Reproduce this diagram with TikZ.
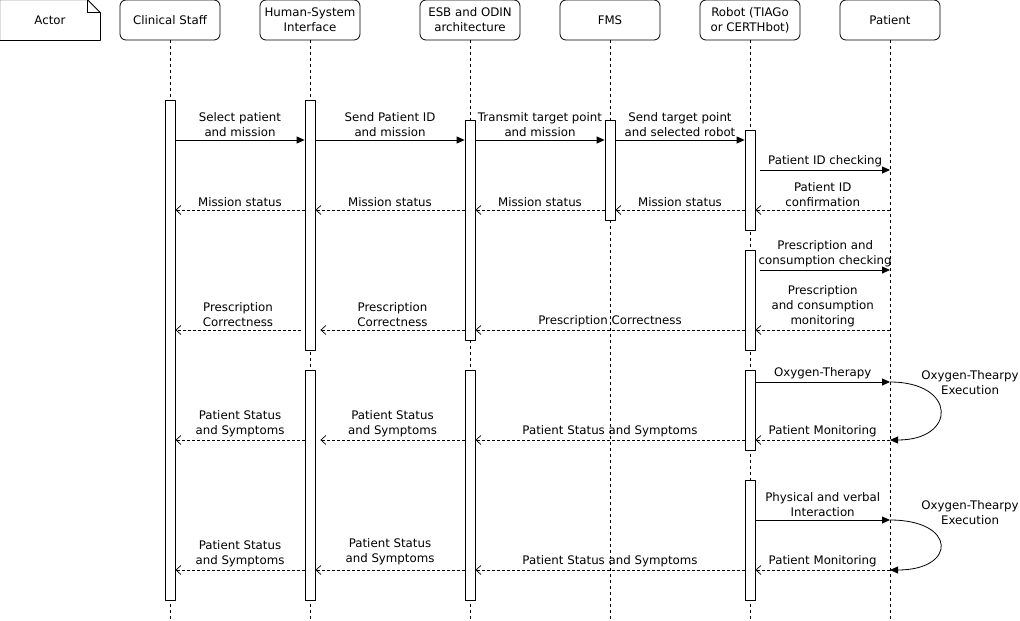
\documentclass[tikz,border=0pt]{standalone}
\usepackage{fontspec}
\setmainfont{DejaVu Sans}
\usetikzlibrary{arrows.meta}

\begin{document}
\begin{tikzpicture}[x=1pt,y=-1pt,line join=round,line width=0.8pt,
  font=\fontsize{11.8}{15}\selectfont,
  head/.style={draw,rounded corners=6pt,minimum width=100pt,minimum height=40pt,align=center,inner sep=1pt},
  life/.style={dash pattern=on 3pt off 3pt},
  bar/.style={draw,fill=white,minimum width=10pt,inner sep=0pt},
  msg/.style={-{Triangle[length=8pt,width=7pt]}},
  ret/.style={dash pattern=on 3pt off 2pt,-{Straight Barb[length=5pt,width=9pt,line width=0.7pt]}},
  lbl/.style={above,align=center,inner sep=1pt,yshift=2pt}]
  \useasboundingbox (0,0) rectangle (1020,621);

  % header boxes
  \node[minimum width=100pt,minimum height=40pt] (actor) at (50,20) {Actor};
  \draw (actor.north west) -- ([xshift=-13pt]actor.north east) -- ([yshift=-13pt]actor.north east)
    -- (actor.south east) -- (actor.south west) -- cycle;
  \draw ([xshift=-13pt]actor.north east) |- ([yshift=-13pt]actor.north east);
  \node[head] (cs) at (170,20) {Clinical Staff};
  \node[head] (hsi) at (310,20) {Human-System\\Interface};
  \node[head] (esb) at (470,20) {ESB and ODIN\\architecture};
  \node[head] (fms) at (610,20) {FMS};
  \node[head] (rob) at (750,20) {Robot (TIAGo\\or CERTHbot)};
  \node[head] (pat) at (890,20) {Patient};

  % lifelines
  \foreach \n in {cs,hsi,esb,fms,rob,pat}
    \draw[life] (\n.south) -- (\n.south |- 0,621);

  % activation bars
  \node[bar,minimum height=500pt] (cs1) at (170,350) {};
  \node[bar,minimum height=250pt] (hsi1) at (310,225) {};
  \node[bar,minimum height=230pt] (hsi2) at (310,485) {};
  \node[bar,minimum height=220pt] (esb1) at (470,230) {};
  \node[bar,minimum height=230pt] (esb2) at (470,485) {};
  \node[bar,minimum height=100pt] (fms1) at (610,170) {};
  \node[bar,minimum height=100pt] (rob1) at (750,180) {};
  \node[bar,minimum height=100pt] (rob2) at (750,300) {};
  \node[bar,minimum height=80pt] (rob3) at (750,410) {};
  \node[bar,minimum height=120pt] (rob4) at (750,540) {};

  % mission request
  \draw[msg] (cs1.east |- 0,140) -- node[lbl] {Select patient\\and mission} (hsi1.west |- 0,140);
  \draw[msg] (hsi1.east |- 0,140) -- node[lbl] {Send Patient ID\\and mission} (esb1.west |- 0,140);
  \draw[msg] (esb1.east |- 0,140) -- node[lbl] {Transmit target point\\and mission} (fms1.west |- 0,140);
  \draw[msg] (fms1.east |- 0,140) -- node[lbl] {Send target point\\and selected robot} (rob1.west |- 0,140);
  \draw[msg] ([xshift=5pt]rob1.east |- 0,170) -- node[lbl] {Patient ID checking} (pat |- 0,170);

  % mission status
  \draw[ret] (pat |- 0,210) -- node[lbl] {Patient ID\\confirmation} (rob1.east |- 0,210);
  \draw[ret] (rob1.west |- 0,210) -- node[lbl] {Mission status} (fms1.east |- 0,210);
  \draw[ret] (fms1.west |- 0,210) -- node[lbl] {Mission status} (esb1.east |- 0,210);
  \draw[ret] (esb1.west |- 0,210) -- node[lbl] {Mission status} (hsi1.east |- 0,210);
  \draw[ret] (hsi1.west |- 0,210) -- node[lbl] {Mission status} (cs1.east |- 0,210);

  % prescription
  \draw[msg] ([xshift=5pt]rob2.east |- 0,270) -- node[lbl] {Prescription and\\consumption checking} (pat |- 0,270);
  \draw[ret] (pat |- 0,330) -- node[lbl] {Prescription\\and consumption\\monitoring} (rob2.east |- 0,330);
  \draw[ret] (rob2.west |- 0,330) -- node[lbl] {Prescription Correctness} (esb1.east |- 0,330);
  \draw[ret] (esb1.west |- 0,330) -- node[lbl] {Prescription\\Correctness} ([xshift=5pt]hsi1.east |- 0,330);
  \draw[ret] ([xshift=-4pt]hsi1.west |- 0,330) -- node[lbl] {Prescription\\Correctness} (cs1.east |- 0,330);

  % oxygen therapy
  \draw[msg] (rob3.east |- 0,382) -- node[lbl] {Oxygen-Therapy} (pat |- 0,382);
  \draw[msg] (pat |- 0,382) .. controls (957,382) and (957,440) .. (pat |- 0,440);
  \node[align=center] (exec1) at (970,383) {Oxygen-Thearpy\\Execution};
  \draw[ret] (pat |- 0,440) -- node[lbl] {Patient Monitoring} (rob3.east |- 0,440);
  \draw[ret] (rob3.west |- 0,440) -- node[lbl] {Patient Status and Symptoms} (esb2.east |- 0,440);
  \draw[ret] (esb2.west |- 0,440) -- node[lbl] {Patient Status\\and Symptoms} ([xshift=5pt]hsi2.east |- 0,440);
  \draw[ret] (hsi2.west |- 0,440) -- node[lbl] {Patient Status\\and Symptoms} (cs1.east |- 0,440);

  % interaction
  \draw[msg] (rob4.east |- 0,520) -- node[lbl] {Physical and verbal\\Interaction} (pat |- 0,520);
  \draw[msg] (pat |- 0,520) .. controls (957,520) and (957,570) .. (pat |- 0,570);
  \node[align=center] (exec2) at (970,513) {Oxygen-Thearpy\\Execution};
  \draw[ret] (pat |- 0,570) -- node[lbl] {Patient Monitoring} (rob4.east |- 0,570);
  \draw[ret] (rob4.west |- 0,570) -- node[lbl] {Patient Status and Symptoms} (esb2.east |- 0,570);
  \draw[ret] (esb2.west |- 0,570) -- node[lbl,yshift=2pt] {Patient Status\\and Symptoms} (hsi2.east |- 0,570);
  \draw[ret] (hsi2.west |- 0,570) -- node[lbl] {Patient Status\\and Symptoms} (cs1.east |- 0,570);
\end{tikzpicture}
\end{document}
